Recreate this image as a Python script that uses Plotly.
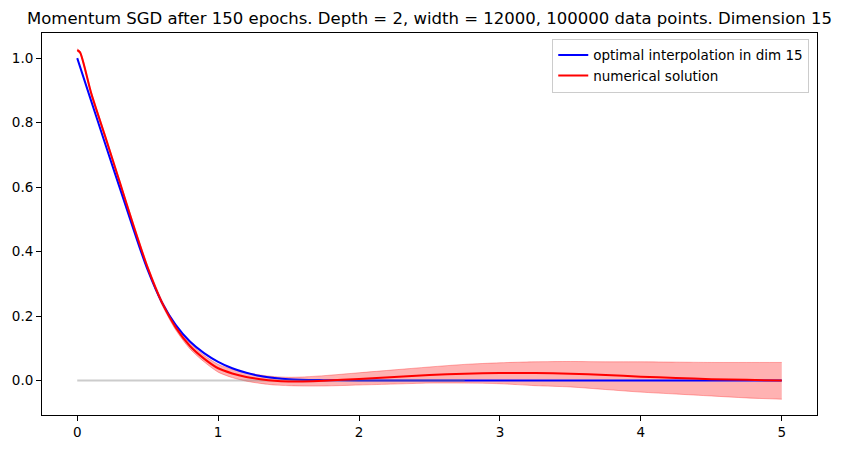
import plotly.graph_objects as go

# values
x_opt = [0.0, 0.1, 0.2, 0.3, 0.4, 0.5, 0.6, 0.7, 0.8, 0.9, 1.0, 1.1, 1.2, 1.3,
         1.4, 1.5, 1.75, 2.0, 2.5, 3.0, 3.5, 4.0, 4.5, 5.0]
y_opt = [1.0, 0.866, 0.732, 0.600, 0.468, 0.343, 0.243, 0.172, 0.121, 0.085,
         0.058, 0.038, 0.024, 0.014, 0.008, 0.004, 0.001, 0.0, 0.0, 0.0, 0.0,
         0.0, 0.0, 0.0]

x_num = [0.0, 0.02, 0.1, 0.2, 0.3, 0.4, 0.5, 0.6, 0.7, 0.8, 0.9, 1.0, 1.1, 1.2,
         1.3, 1.4, 1.5, 1.6, 1.75, 2.0, 2.25, 2.5, 2.75, 3.0, 3.25, 3.5, 3.75,
         4.0, 4.25, 4.5, 4.75, 5.0]
y_num = [1.025, 1.018, 0.890, 0.755, 0.618, 0.480, 0.350, 0.243, 0.164, 0.107,
         0.068, 0.038, 0.022, 0.011, 0.004, -0.001, -0.003, -0.003, -0.001,
         0.005, 0.011, 0.017, 0.021, 0.023, 0.023, 0.021, 0.017, 0.012, 0.008,
         0.004, 0.002, 0.0]
y_num_lo = [1.021, 1.014, 0.885, 0.750, 0.613, 0.475, 0.344, 0.236, 0.156, 0.098,
            0.058, 0.026, 0.009, -0.002, -0.009, -0.014, -0.016, -0.017, -0.017,
            -0.014, -0.011, -0.008, -0.008, -0.010, -0.016, -0.020, -0.028,
            -0.036, -0.042, -0.048, -0.054, -0.058]
y_num_hi = [1.029, 1.022, 0.895, 0.760, 0.623, 0.485, 0.356, 0.250, 0.172, 0.116,
            0.078, 0.050, 0.035, 0.024, 0.017, 0.012, 0.010, 0.011, 0.015,
            0.024, 0.033, 0.042, 0.050, 0.055, 0.058, 0.059, 0.058, 0.058,
            0.057, 0.056, 0.056, 0.056]

x_zero = [0.0, 2.75]
y_zero = [0.0, 0.0]

title = ("Momentum SGD after 150 epochs. Depth = 2, width = 12000, "
         "100000 data points. Dimension 15")

fig = go.Figure()

fig.add_trace(go.Scatter(
    x=x_num, y=y_num_lo, mode='lines',
    line=dict(color='rgba(255,0,0,0.3)', width=1, shape='spline', smoothing=0.7),
    showlegend=False, hoverinfo='skip'
))
fig.add_trace(go.Scatter(
    x=x_num, y=y_num_hi, mode='lines', fill='tonexty', fillcolor='rgba(255,0,0,0.3)',
    line=dict(color='rgba(255,0,0,0.3)', width=1, shape='spline', smoothing=0.7),
    showlegend=False, hoverinfo='skip'
))
fig.add_trace(go.Scatter(
    x=x_opt, y=y_opt, mode='lines', line=dict(color='blue', width=2, shape='spline'),
    name='optimal interpolation in dim 15'
))
fig.add_trace(go.Scatter(
    x=x_zero, y=y_zero, mode='lines', line=dict(color='rgba(128,128,128,0.4)', width=2),
    showlegend=False, hoverinfo='skip'
))
fig.add_trace(go.Scatter(
    x=x_num, y=y_num, mode='lines',
    line=dict(color='red', width=2, shape='spline', smoothing=0.7),
    name='numerical solution'
))

axis_style = dict(
    showline=True, mirror=True, linecolor='black', linewidth=1,
    ticks='outside', ticklen=5, tickcolor='black', showgrid=False, zeroline=False,
    tickfont=dict(size=13.5, color='black'), automargin=False
)

# the page body adds 8px on the top and left, so the figure is 8px smaller
fig.update_layout(
    width=836, height=443,
    margin=dict(l=34, r=27, t=25, b=36),
    paper_bgcolor='white', plot_bgcolor='white',
    font=dict(family='DejaVu Sans', color='black'),
    title=dict(text=title, x=0.5, xref='paper', xanchor='center',
               y=1 - 10 / 443, yref='container', yanchor='middle',
               font=dict(size=16.5, color='black'), automargin=False),
    xaxis=dict(range=[-0.25, 5.25], tickvals=[0, 1, 2, 3, 4, 5], **axis_style),
    yaxis=dict(range=[-0.107, 1.078], tickvals=[0.0, 0.2, 0.4, 0.6, 0.8, 1.0],
               tickformat='.1f', **axis_style),
    legend=dict(x=0.99, y=0.985, xanchor='right', yanchor='top', traceorder='normal',
                bgcolor='rgba(255,255,255,0.8)', bordercolor='#cccccc', borderwidth=1,
                font=dict(size=13.5), tracegroupgap=0),
    showlegend=True,
)

fig.write_html("out.html")
